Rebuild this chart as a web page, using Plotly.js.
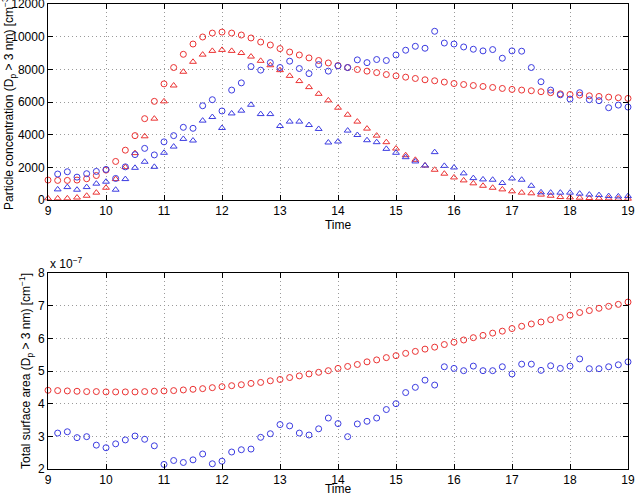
<!DOCTYPE html>
<html>
<head>
<meta charset="utf-8">
<script src="https://cdn.plot.ly/plotly-3.0.1.min.js"></script>
<style>html,body{margin:0;padding:0;background:#fff;}#chart{width:636px;height:496px;}</style>
</head>
<body>
<div id="chart"></div>
<script>
// Time in hours, 10-minute steps from 9 to 19
const timeHours = [9,9.1667,9.3333,9.5,9.6667,9.8333,10,10.1667,10.3333,10.5,10.6667,10.8333,
  11,11.1667,11.3333,11.5,11.6667,11.8333,12,12.1667,12.3333,12.5,12.6667,12.8333,
  13,13.1667,13.3333,13.5,13.6667,13.8333,14,14.1667,14.3333,14.5,14.6667,14.8333,
  15,15.1667,15.3333,15.5,15.6667,15.8333,16,16.1667,16.3333,16.5,16.6667,16.8333,
  17,17.1667,17.3333,17.5,17.6667,17.8333,18,18.1667,18.3333,18.5,18.6667,18.8333,19];

// Top panel: particle concentration (Dp > 3 nm) [cm^-3]
const redCircleConc = [1220,1200,1200,1220,1300,1500,1830,2360,3050,3940,4980,6040,
  7110,8110,8920,9550,9980,10220,10280,10220,10100,9920,9670,9490,
  9270,9060,8880,8700,8540,8390,8230,8110,7990,7890,7800,7680,
  7600,7520,7440,7360,7300,7220,7130,7070,7010,6950,6890,6830,
  6770,6730,6690,6630,6570,6500,6460,6420,6380,6340,6300,6260,6220];
const redTriangleConc = [100,100,100,150,260,450,750,1280,2010,2870,3900,4980,
  6040,7010,7850,8460,8900,9130,9190,9130,9000,8780,8520,8250,
  7950,7600,7280,6910,6500,6100,5650,5220,4800,4370,3940,3540,
  3150,2740,2460,2110,1850,1610,1380,1200,1020,870,750,650,
  530,450,410,330,260,180,160,140,120,100,100,80,80];
const blueCircleConc = [null,1590,1730,1400,1610,1750,1870,1320,2030,2780,3160,2760,
  3560,3940,4450,4390,5770,6140,5450,6730,7170,8170,7950,8410,
  8110,8500,8050,7740,8290,7890,8210,8110,8580,8410,8600,8540,
  8880,9170,9410,9290,10330,9610,9550,9370,9230,9130,9210,8680,
  9130,9110,8110,7240,6730,6440,6180,6570,6140,6080,5650,5810,5690];
const blueTriangleConc = [null,650,790,630,790,1000,1120,630,1280,1970,2340,2030,
  2890,3270,3740,3640,4860,5080,4410,5300,5470,5830,5260,5260,
  4530,4800,4800,4590,4350,3520,3580,4250,3980,3660,3540,3130,
  2890,2620,2360,2110,2930,2090,1990,1630,1340,1260,1240,1040,
  1320,1240,870,470,450,450,450,390,330,300,240,220,240];

// Bottom panel: total surface area (Dp > 3 nm) [cm^-1], in units of 1e-7
const redCircleArea = [4.41,4.40,4.39,4.38,4.37,4.37,4.36,4.36,4.36,4.36,4.37,4.38,
  4.39,4.40,4.42,4.44,4.46,4.49,4.52,4.55,4.58,4.62,4.65,4.70,
  4.74,4.80,4.85,4.91,4.96,5.01,5.08,5.14,5.20,5.28,5.34,5.41,
  5.47,5.54,5.60,5.67,5.73,5.81,5.88,5.95,6.02,6.09,6.16,6.22,
  6.30,6.37,6.44,6.50,6.57,6.64,6.71,6.79,6.85,6.92,6.98,7.04,7.11];
const blueCircleArea = [null,3.10,3.14,2.96,2.99,2.73,2.65,2.77,2.89,3.01,2.91,2.71,
  2.14,2.26,2.20,2.28,2.46,2.16,2.24,2.52,2.59,2.61,2.97,3.08,
  3.36,3.32,3.10,3.04,3.23,3.56,3.39,2.99,3.38,3.46,3.56,3.82,
  4.00,4.34,4.50,4.72,4.57,5.13,5.08,5.01,5.15,5.01,5.01,5.13,
  4.91,5.21,5.21,5.02,5.16,5.08,5.15,5.37,5.07,5.07,5.13,5.19,5.28];

const xTicks = [9,10,11,12,13,14,15,16,17,18,19];
const xTickText = ['9','10','11','12','13','14','15','16','17','18','19'];
const yTicksTop = [0,2000,4000,6000,8000,10000,12000];
const yTickTextTop = ['0','2000','4000','6000','8000','10000','12000'];
const yTicksBottom = [2,3,4,5,6,7,8];
const yTickTextBottom = ['2','3','4','5','6','7','8'];

const RED = 'rgb(235,50,50)';
const BLUE = 'rgb(60,60,225)';
const FONT = {family: 'Liberation Sans, Arial, sans-serif', size: 12, color: '#000'};

function sc(x, y, sym, color, xa, ya, size) {
  return {x: x, y: y, type: 'scatter', mode: 'markers', xaxis: xa, yaxis: ya,
    marker: {symbol: sym, size: size, color: color, line: {color: color, width: 1}},
    hoverinfo: 'x+y', showlegend: false, cliponaxis: false};
}

const data = [
  sc(timeHours, redCircleConc, 'circle-open', RED, 'x', 'y', 6),
  sc(timeHours, redTriangleConc, 'triangle-up-open', RED, 'x', 'y', 6),
  sc(timeHours, blueCircleConc, 'circle-open', BLUE, 'x', 'y', 6),
  sc(timeHours, blueTriangleConc, 'triangle-up-open', BLUE, 'x', 'y', 6),
  sc(timeHours, redCircleArea, 'circle-open', RED, 'x2', 'y2', 6),
  sc(timeHours, blueCircleArea, 'circle-open', BLUE, 'x2', 'y2', 6)
];

const GRID = {showgrid: true, gridcolor: '#9a9a9a', griddash: '1px,3px', gridwidth: 1, zeroline: false};

function xAxis(anchor) {
  return Object.assign({
    range: [9, 19], tickmode: 'array', tickvals: xTicks, ticktext: xTickText,
    ticks: 'inside', ticklen: 5, tickcolor: '#000',
    showline: true, linecolor: '#000', linewidth: 1, mirror: 'ticks',
    anchor: anchor, tickfont: FONT, domain: [0, 1], ticklabeloverflow: 'allow',
    title: {text: 'Time', font: FONT, standoff: 0}
  }, GRID);
}

const layout = {
  width: 636, height: 496,
  margin: {l: 48, r: 8, t: 4, b: 27},
  paper_bgcolor: '#fff', plot_bgcolor: '#fff',
  font: FONT,
  showlegend: false,
  xaxis: xAxis('y'),
  yaxis: Object.assign({
    domain: [0.5785, 1], range: [0, 12000], tickmode: 'array',
    tickvals: yTicksTop, ticktext: yTickTextTop,
    ticks: 'inside', ticklen: 5, tickcolor: '#000',
    showline: true, linecolor: '#000', linewidth: 1, mirror: 'ticks',
    tickfont: FONT, anchor: 'x', ticklabeloverflow: 'allow',
    title: {text: 'Particle concentration (D<sub>p</sub> > 3 nm) [cm<sup>−3</sup>]', font: FONT, standoff: 4}
  }, GRID),
  xaxis2: xAxis('y2'),
  yaxis2: Object.assign({
    domain: [0, 0.4215], range: [2, 8], tickmode: 'array',
    tickvals: yTicksBottom, ticktext: yTickTextBottom,
    ticks: 'inside', ticklen: 5, tickcolor: '#000',
    showline: true, linecolor: '#000', linewidth: 1, mirror: 'ticks',
    tickfont: FONT, anchor: 'x2', ticklabeloverflow: 'allow',
    title: {text: 'Total surface area (D<sub>p</sub> > 3 nm) [cm<sup>−1</sup>]', font: FONT, standoff: 4}
  }, GRID),
  annotations: [{
    text: 'x 10<sup>−7</sup>', xref: 'paper', yref: 'paper', x: 0, y: 0.4215,
    xanchor: 'left', yanchor: 'bottom', showarrow: false, font: FONT, yshift: 0
  }]
};

Plotly.newPlot('chart', data, layout, {staticPlot: true, displayModeBar: false});
</script>
</body>
</html>
